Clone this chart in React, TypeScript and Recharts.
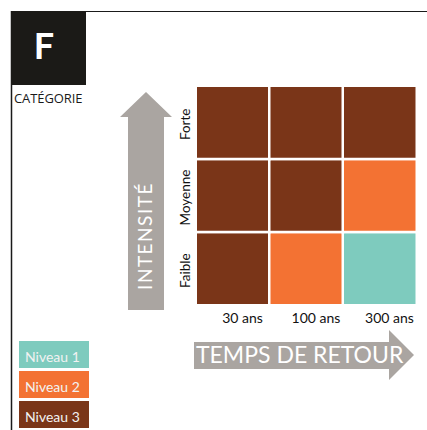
import React from "react";
import { Bar, BarChart, Cell, XAxis, YAxis } from "recharts";

// colonnes (temps de retour) et lignes (intensité, du bas vers le haut)
const periods = ["30 ans", "100 ans", "300 ans"];
const intensities = ["Faible", "Moyenne", "Forte"];

// niveau de chaque case, par période : [Faible, Moyenne, Forte]
const levels30 = [3, 3, 3];
const levels100 = [2, 3, 3];
const levels300 = [1, 2, 3];

const levelNames = ["Niveau 1", "Niveau 2", "Niveau 3"];
const levelColors = ["#7ecbbe", "#f37233", "#7a3518"];

const category = "F";
const categoryLabel = "CATÉGORIE";
const yTitle = "INTENSITÉ";
const xTitle = "TEMPS DE RETOUR";

const FONT = "Lato, 'Open Sans', sans-serif";
const ARROW = "#aaa5a1";

const levelsByPeriod = [levels30, levels100, levels300];
const rows = periods.map((p, i) => {
  const row: any = { period: p };
  intensities.forEach((k, j) => {
    row[k] = 1;
    row["lv_" + k] = levelsByPeriod[i][j];
  });
  return row;
});

const YTick = (props: any) => {
  const { x, y, payload } = props;
  const tx = x - 5.5;
  const ty = y + 2;
  return (
    <text
      x={tx}
      y={ty}
      transform={`rotate(-90 ${tx} ${ty})`}
      textAnchor="middle"
      fontFamily={FONT}
      fontSize={13.5}
      fill="#111"
    >
      {intensities[Math.floor(payload.value)]}
    </text>
  );
};

const XTick = (props: any) => {
  const { x, y, payload } = props;
  return (
    <text
      x={x + 10}
      y={y + 17.5}
      textAnchor="middle"
      fontFamily={FONT}
      fontSize={14}
      fill="#111"
    >
      {payload.value}
    </text>
  );
};

const Decor = () => (
  <svg
    width={427}
    height={430}
    style={{ position: "absolute", left: 0, top: 0, pointerEvents: "none" }}
  >
    {/* cadre */}
    <line x1={11} y1={11.5} x2={427} y2={11.5} stroke="#1a1a1a" strokeWidth={1.2} />
    <line x1={11.5} y1={11} x2={11.5} y2={430} stroke="#1a1a1a" strokeWidth={1.5} />
    <rect x={11} y={11} width={75} height={74} fill="#1b1a17" />
    <text x={44} y={59} textAnchor="middle" fontFamily={FONT} fontWeight="bold" fontSize={36} fill="#fff">
      {category}
    </text>
    <text x={14} y={103} fontFamily="'Open Sans', sans-serif" fontSize={13} fill="#1a1a1a" letterSpacing={-0.1}>
      {categoryLabel}
    </text>

    {/* flèche intensité */}
    <polygon
      points="146,92 120,117 128,117 128,310 164,310 164,117 172,117"
      fill={ARROW}
    />
    <text
      x={152}
      y={236}
      transform="rotate(-90 152 236)"
      textAnchor="middle"
      fontFamily={FONT}
      fontSize={19}
      letterSpacing={1.5}
      fill="#fff"
    >
      {yTitle}
    </text>

    {/* flèche temps de retour */}
    <polygon
      points="194,342 389,342 389,330 414,355 389,380 389,369 194,369"
      fill={ARROW}
    />
    <text x={196} y={363} fontFamily={FONT} fontSize={23} fill="#fff">
      {xTitle}
    </text>
  </svg>
);

export default function App() {
  return (
    <div
      style={{
        position: "fixed",
        left: 0,
        top: 0,
        width: 427,
        height: 430,
        background: "#fff",
        overflow: "hidden",
      }}
    >
      <Decor />
      <div style={{ position: "absolute", left: 0, top: 0 }}>
        <BarChart
          width={427}
          height={430}
          data={rows}
          barCategoryGap={0}
          barGap={0}
          margin={{ top: 85.75, right: 10.75, bottom: 104.75, left: 165.75 }}
        >
          <XAxis
            dataKey="period"
            height={20}
            tickSize={0}
            tickMargin={0}
            axisLine={false}
            tickLine={false}
            tick={<XTick />}
          />
          <YAxis
            type="number"
            domain={[0, 3]}
            ticks={[0.5, 1.5, 2.5]}
            width={30}
            tickSize={0}
            tickMargin={0}
            axisLine={false}
            tickLine={false}
            tick={<YTick />}
          />
          {intensities.map((k) => (
            <Bar
              key={k}
              dataKey={k}
              stackId="grid"
              stroke="#fff"
              strokeWidth={2.5}
              isAnimationActive={false}
            >
              {rows.map((r, i) => (
                <Cell key={i} fill={levelColors[r["lv_" + k] - 1]} />
              ))}
            </Bar>
          ))}
        </BarChart>
      </div>
      {levelNames.map((name, i) => (
        <div
          key={name}
          style={{
            position: "absolute",
            left: 19,
            top: 341 + i * 30,
            width: 70,
            height: 26.5,
            background: levelColors[i],
            color: "#f2f2f2",
            fontFamily: FONT,
            fontSize: 14,
            lineHeight: "31px",
            paddingLeft: 6,
            boxSizing: "border-box",
            overflow: "hidden",
          }}
        >
          {name}
        </div>
      ))}
    </div>
  );
}
